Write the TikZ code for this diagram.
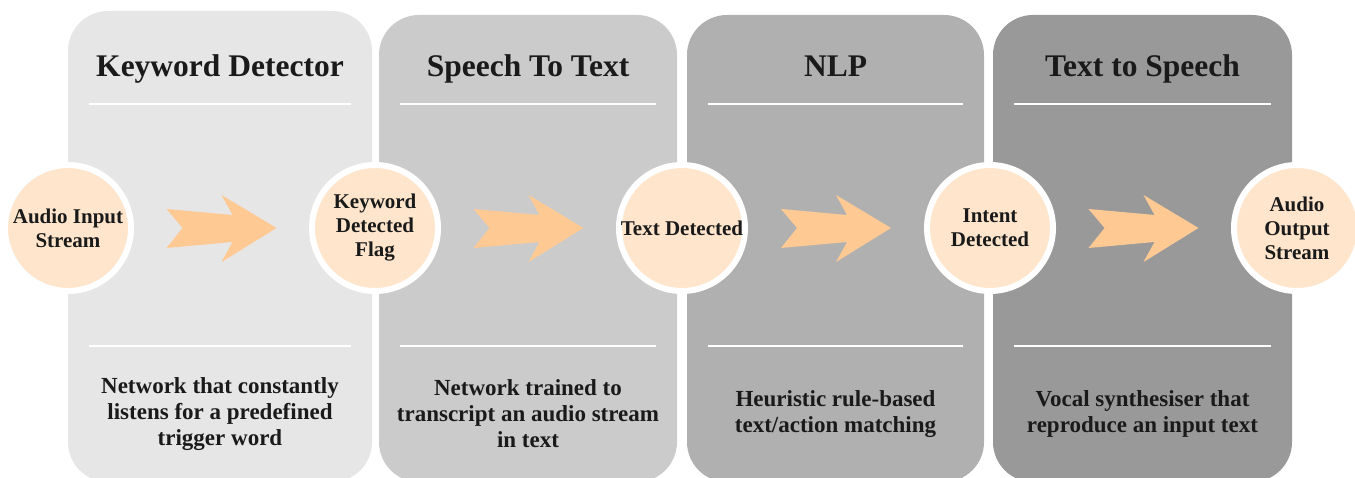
\documentclass[tikz,border=0pt]{standalone}
\usepackage{fontspec}
\setmainfont{Liberation Serif}
\usetikzlibrary{calc}
\definecolor{panelA}{HTML}{E6E6E6}
\definecolor{panelB}{HTML}{CBCBCB}
\definecolor{panelC}{HTML}{B0B0B0}
\definecolor{panelD}{HTML}{999999}
\definecolor{peach}{HTML}{FEE5CC}
\definecolor{arrowpeach}{HTML}{FFC994}
\definecolor{ink}{HTML}{1A1A1A}
\begin{document}
\begin{tikzpicture}[x=1pt, y=-1pt,
  panel/.style={rounded corners=40pt},
  sep/.style={white, line width=2pt},
  title/.style={anchor=base, text=ink, font=\fontsize{31.5}{36}\selectfont\bfseries},
  desc/.style={align=center, text=ink, font=\fontsize{23}{26}\selectfont\bfseries},
  stage/.style={circle, draw=white, line width=6pt, fill=peach, minimum size=126pt, inner sep=0pt,
    align=center, text=ink, font=\fontsize{21}{24}\selectfont\bfseries}]
  \useasboundingbox (0,0) rectangle (1355,478);
  % the four grey panels with headline, rules and description
  \foreach \l/\r/\t/\col/\head/\txt in {
      68/372/11/panelA/Keyword Detector/{Network that constantly\\listens for a predefined\\trigger word},
      379/677/15/panelB/Speech To Text/{Network trained to\\transcript an audio stream\\in text},
      687/984/15/panelC/NLP/{Heuristic rule-based\\text/action matching},
      993/1292/15/panelD/Text to Speech/{Vocal synthesiser that\\reproduce an input text}} {
    \fill[panel, \col] (\l,\t) rectangle (\r,482);
    \node[title] at ({(\l+\r)/2}, 77) {\head};
    \draw[sep] (\l+21,104) -- (\r-21,104);
    \draw[sep] (\l+21,346) -- (\r-21,346);
    \node[desc] at ({(\l+\r)/2}, 414) {\txt};
  }
  % stages between the panels
  \node[stage] (in)  at (68,228)   {Audio Input\\Stream};
  \node[stage] (kw)  at (375,228)  {Keyword\\Detected\\Flag};
  \node[stage] (txt) at (682,228)  {Text Detected};
  \node[stage] (int) at (990,228)  {Intent\\Detected};
  \node[stage] (out) at (1297,228) {Audio\\Output\\Stream};
  % block arrows halfway between two stages
  \foreach \a/\b in {in/kw, kw/txt, txt/int, int/out}
    \fill[arrowpeach, shift={($(\a)!0.5!(\b)$)}]
      (-55,-19) -- (-39,0) -- (-55,20) -- (11,14) -- (0,34) -- (55,0) -- (0,-33) -- (11,-13) -- cycle;
\end{tikzpicture}
\end{document}
